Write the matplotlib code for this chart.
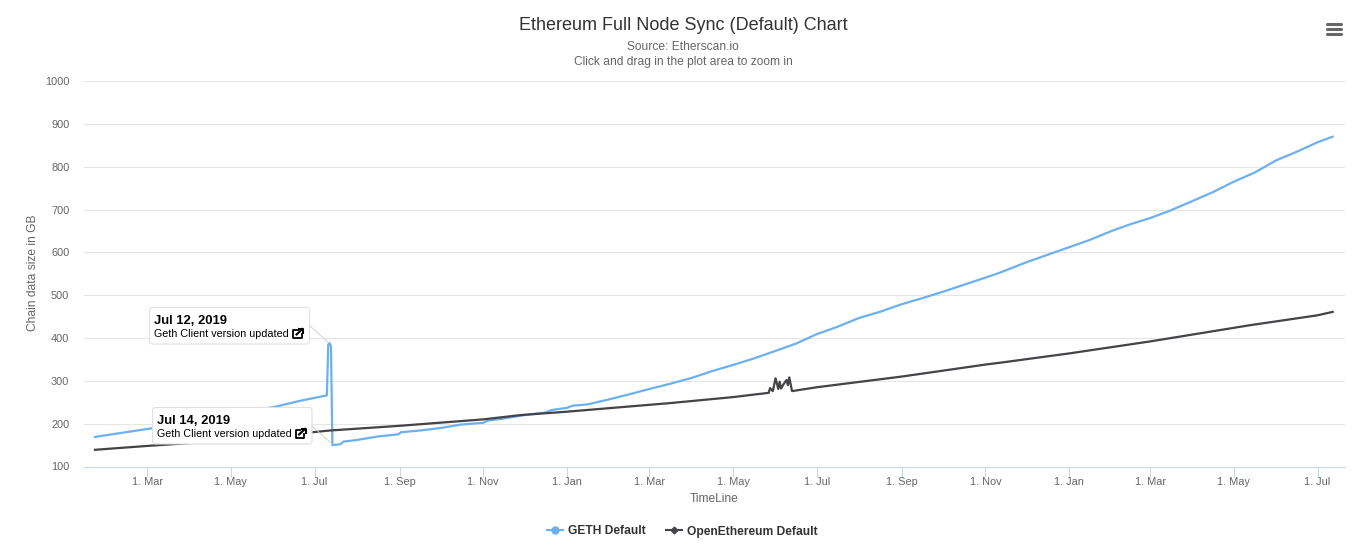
import pandas as pd
import matplotlib
matplotlib.use('Agg')
import matplotlib.pyplot as plt
import matplotlib.dates as mdates
from matplotlib.lines import Line2D
from matplotlib.patches import FancyBboxPatch

plt.rcParams['font.family'] = ['Liberation Sans', 'DejaVu Sans']

# values
geth_dates = ['2019-01-22', '2019-02-01', '2019-03-04', '2019-04-01', '2019-05-01', '2019-06-03',
              '2019-06-20', '2019-07-10', '2019-07-11', '2019-07-12', '2019-07-13', '2019-07-14',
              '2019-07-20', '2019-07-22', '2019-08-01', '2019-08-16', '2019-08-31', '2019-09-02',
              '2019-09-16', '2019-10-01', '2019-10-16', '2019-11-01', '2019-11-04', '2019-11-16',
              '2019-12-01', '2019-12-16', '2019-12-21', '2020-01-01', '2020-01-05', '2020-01-16',
              '2020-02-01', '2020-02-16', '2020-03-01', '2020-03-16', '2020-04-01', '2020-04-16',
              '2020-05-01', '2020-05-16', '2020-06-01', '2020-06-16', '2020-07-01', '2020-07-16',
              '2020-08-01', '2020-08-16', '2020-09-01', '2020-09-16', '2020-10-01', '2020-10-16',
              '2020-11-01', '2020-11-11', '2020-12-01', '2020-12-16', '2021-01-01', '2021-01-16',
              '2021-02-01', '2021-02-15', '2021-03-01', '2021-03-16', '2021-04-01', '2021-04-16',
              '2021-05-01', '2021-05-16', '2021-06-01', '2021-06-16', '2021-07-01', '2021-07-12']
geth_size = [169, 174, 189, 205, 221, 240,
             253, 266, 385, 388, 380, 150,
             152, 158, 162, 170, 175, 180,
             184, 190, 198, 202, 207, 212,
             220, 226, 232, 237, 242, 245,
             257, 269, 281, 293, 307, 323,
             337, 352, 370, 387, 409, 426,
             447, 461, 479, 493, 508, 524,
             541, 552, 577, 594, 612, 629,
             650, 666, 680, 698, 720, 741,
             765, 786, 815, 835, 857, 870]

oe_dates = ['2019-01-22', '2019-03-01', '2019-05-01', '2019-07-12', '2019-09-01', '2019-11-01',
            '2019-11-28', '2020-01-01', '2020-03-16', '2020-05-01', '2020-05-27', '2020-05-28',
            '2020-05-30', '2020-06-01', '2020-06-03', '2020-06-04', '2020-06-05', '2020-06-07',
            '2020-06-09', '2020-06-10', '2020-06-11', '2020-06-13', '2020-07-01', '2020-09-01',
            '2020-11-01', '2020-11-11', '2021-01-01', '2021-03-01', '2021-05-13', '2021-07-01',
            '2021-07-12']
oe_size = [139, 148, 161, 184, 195, 210,
           220, 228, 248, 262, 272, 283,
           276, 306, 281, 298, 282, 293,
           302, 290, 308, 276, 285, 310,
           338, 342, 364, 392, 430, 453,
           461]

y_ticks = list(range(100, 1001, 100))

W, H = 1362, 560
fig = plt.figure(figsize=(W / 100, H / 100), dpi=100)
ax = fig.add_axes([84 / W, (H - 466.5) / H, (1345 - 84) / W, 385.5 / H])

ax.plot(pd.to_datetime(geth_dates), geth_size, color='#6cb0ee', lw=1.6, solid_joinstyle='round')
ax.plot(pd.to_datetime(oe_dates), oe_size, color='#434348', lw=1.6, solid_joinstyle='round')

ax.set_xlim(pd.Timestamp('2019-01-14'), pd.Timestamp('2021-07-21'))
ax.set_ylim(100, 1000)
ax.set_yticks(y_ticks)
ax.xaxis.set_major_locator(mdates.MonthLocator(bymonth=[1, 3, 5, 7, 9, 11]))
ax.xaxis.set_major_formatter(mdates.DateFormatter('1. %b'))
ax.tick_params(axis='x', length=7, width=0.72, color='#ccd6eb', labelcolor='#666666', labelsize=7.9, pad=0.8)
ax.tick_params(axis='y', length=0, labelcolor='#666666', labelsize=7.9, pad=10.5)
ax.grid(axis='y', color='#e6e6e6', lw=0.8)
ax.set_axisbelow(True)
for s in ['top', 'right', 'left']:
    ax.spines[s].set_visible(False)
ax.spines['bottom'].set_color('#ccd6eb')
ax.spines['bottom'].set_linewidth(0.8)

ax.set_xlabel('TimeLine', color='#666666', fontsize=8.64, labelpad=4)
ax.set_ylabel('Chain data size in GB', color='#666666', fontsize=8.64)
ax.yaxis.set_label_coords((39 - 84) / (1345 - 84), 0.503)

fig.text(683 / W, 1 - 26 / H, 'Ethereum Full Node Sync (Default) Chart', ha='center', va='center',
         fontsize=12.96, color='#333333')
fig.text(683 / W, 1 - 47.5 / H, 'Source: Etherscan.io', ha='center', va='center', fontsize=8.64, color='#666666')
fig.text(683 / W, 1 - 62.5 / H, 'Click and drag in the plot area to zoom in', ha='center', va='center',
         fontsize=8.64, color='#666666')

# overlay in pixel coordinates for the callouts, icon and menu
ov = fig.add_axes([0, 0, 1, 1], zorder=5)
ov.set_xlim(0, W)
ov.set_ylim(H, 0)
ov.axis('off')
ov.patch.set_alpha(0)


def callout(x0, y0, x1, y1, date, note, target, start):
    ov.plot([start[0], target[0]], [start[1], target[1]], color='#cccccc', lw=0.6)
    ov.add_patch(FancyBboxPatch((x0 + 3, y0 + 3), x1 - x0 - 6, y1 - y0 - 6, boxstyle='round,pad=3,rounding_size=3',
                                fc='white', ec='#e0e0e0', lw=0.8))
    ov.text(x0 + 4.5, y0 + 13, date, fontsize=9.4, fontweight='bold', color='black', va='center')
    ov.text(x0 + 4.5, y0 + 26.5, note, fontsize=7.75, color='black', va='center')
    # external link icon
    ix, iy = x1 - 16.5, y0 + 20.5
    ov.plot([ix + 4.5, ix, ix, ix + 8.5, ix + 8.5], [iy + 1.5, iy + 1.5, iy + 10, iy + 10, iy + 6], color='black', lw=1.3)
    ov.plot([ix + 3.5, ix + 9.5], [iy + 6.5, iy + 1], color='black', lw=1.5)
    ov.plot([ix + 6, ix + 10, ix + 10], [iy + 0.5, iy + 0.5, iy + 4.5], color='black', lw=1.5)


callout(149.5, 307.5, 309.5, 344, 'Jul 12, 2019', 'Geth Client version updated', (329, 343), (310, 326))
callout(152.5, 407.5, 312, 444, 'Jul 14, 2019', 'Geth Client version updated', (332, 444), (312, 426))

for y in [24, 29, 34]:
    ov.plot([1326.5, 1340.5], [y, y], color='#666666', lw=2.2, solid_capstyle='round')

handles = [Line2D([], [], color='#6cb0ee', lw=1.5, marker='o', ms=5, label='GETH Default'),
           Line2D([], [], color='#434348', lw=1.5, marker='D', ms=3.4, label='OpenEthereum Default')]
fig.legend(handles=handles, loc='center', bbox_to_anchor=(682.5 / W, 1 - 531.5 / H), ncol=2, frameon=False,
           prop={'size': 8.64, 'weight': 'bold'}, labelcolor='#333333', handlelength=1.33, handletextpad=0.42,
           columnspacing=1.67)

fig.savefig('out.png', dpi=100)
